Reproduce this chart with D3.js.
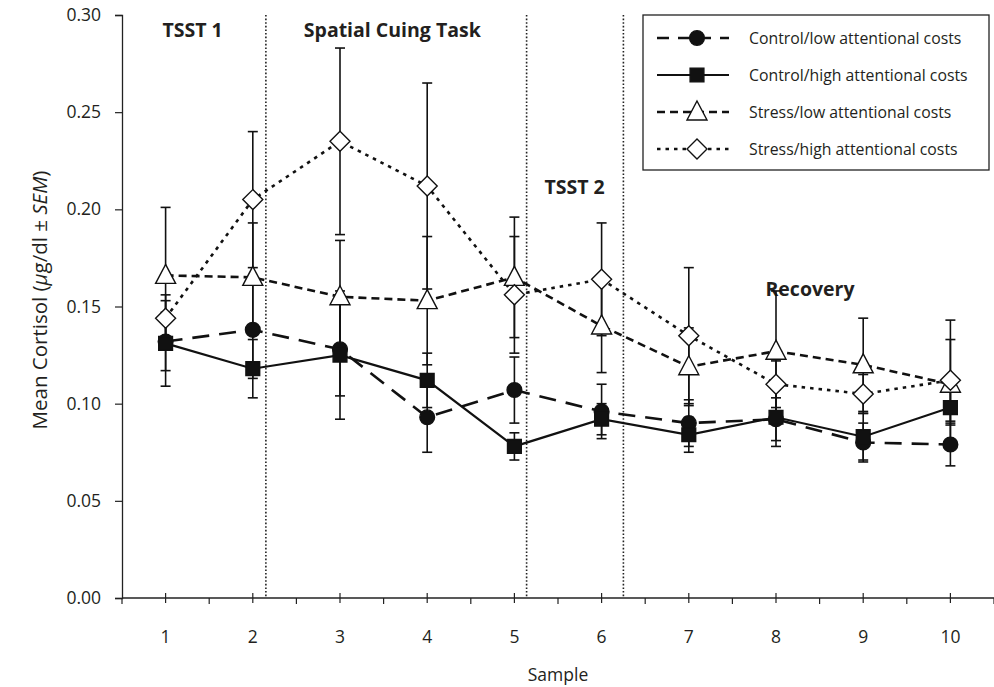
<!DOCTYPE html>
<html>
<head>
<meta charset="utf-8">
<script src="https://cdn.jsdelivr.net/npm/d3@7"></script>
<style>
  body { margin: 0; background: #fff; }
  svg { display: block; }
  text { font-family: "Open Sans", "Noto Sans", sans-serif; fill: #231f20; }
</style>
</head>
<body>
<div id="chart"></div>
<script>
// samples on the x axis
var samples = [1, 2, 3, 4, 5, 6, 7, 8, 9, 10];

// mean cortisol per group
var controlLow  = [0.132, 0.138, 0.128, 0.093, 0.107, 0.096, 0.090, 0.092, 0.080, 0.079];
var controlHigh = [0.131, 0.118, 0.125, 0.112, 0.078, 0.092, 0.084, 0.093, 0.083, 0.098];
var stressLow   = [0.166, 0.165, 0.155, 0.153, 0.165, 0.140, 0.119, 0.127, 0.120, 0.110];
var stressHigh  = [0.144, 0.205, 0.235, 0.212, 0.156, 0.164, 0.135, 0.110, 0.105, 0.112];

// SEM per group
var controlLowSem  = [0.015, 0.025, 0.024, 0.018, 0.017, 0.014, 0.012, 0.011, 0.010, 0.011];
var controlHighSem = [0.022, 0.015, 0.033, 0.014, 0.007, 0.008, 0.009, 0.015, 0.012, 0.009];
var stressLowSem   = [0.035, 0.028, 0.029, 0.033, 0.031, 0.024, 0.020, 0.031, 0.024, 0.033];
var stressHighSem  = [0.012, 0.035, 0.048, 0.053, 0.030, 0.029, 0.035, 0.012, 0.010, 0.021];

var yTicks = [0, 0.05, 0.10, 0.15, 0.20, 0.25, 0.30];

// phase borders (in sample units) and phase labels
var phaseBorders = [2.15, 5.14, 6.25];
var phaseNames = ["TSST 1", "Spatial Cuing Task", "TSST 2", "Recovery"];
var phaseX = [1.31, 3.60, 5.69, 8.39];
var phaseY = [0.2887, 0.2887, 0.2079, 0.1555];

var groups = [
  {name: "Control/low attentional costs",  values: controlLow,  sem: controlLowSem,  marker: "circle",   dash: "17,10", width: 2.6},
  {name: "Control/high attentional costs", values: controlHigh, sem: controlHighSem, marker: "square",   dash: null,    width: 2.2},
  {name: "Stress/low attentional costs",   values: stressLow,   sem: stressLowSem,   marker: "triangle", dash: "8,5",   width: 2.6},
  {name: "Stress/high attentional costs",  values: stressHigh,  sem: stressHighSem,  marker: "diamond",  dash: "3.5,5", width: 2.6}
];

var width = 994, height = 687;
var margin = {top: 15, right: 0, bottom: 89, left: 122};

var svg = d3.select("#chart").append("svg")
  .attr("width", width)
  .attr("height", height);

var x = d3.scaleLinear()
  .domain([0.5, 10.5])
  .range([margin.left, width - margin.right]);

var y = d3.scaleLinear()
  .domain([0, 0.30])
  .range([height - margin.bottom, margin.top]);

//marker shapes
function markerPath(type) {
  if (type == "circle") return d3.symbol(d3.symbolCircle, 170)();
  if (type == "square") return d3.symbol(d3.symbolSquare, 190)();
  if (type == "triangle") return "M0,-11L10,8L-10,8Z";
  return "M0,-10L10,0L0,10L-10,0Z";
}
function markerFill(type) {
  return (type == "circle" || type == "square") ? "#111" : "#fff";
}

// phase borders
svg.selectAll(".border")
  .data(phaseBorders)
  .enter().append("line")
  .attr("x1", d => x(d)).attr("x2", d => x(d))
  .attr("y1", y(0.30)).attr("y2", y(0))
  .attr("stroke", "#222")
  .attr("stroke-width", 1.6)
  .attr("stroke-dasharray", "1.6,2");

// phase labels
svg.selectAll(".phase")
  .data(phaseNames)
  .enter().append("text")
  .attr("x", (d, i) => x(phaseX[i]))
  .attr("y", (d, i) => y(phaseY[i]))
  .attr("text-anchor", "middle")
  .style("font-size", "19.5px")
  .style("font-weight", "bold")
  .text(d => d);

// axes
var xAxis = svg.append("g")
  .attr("transform", "translate(0," + y(0) + ")");
xAxis.append("line")
  .attr("x1", margin.left).attr("x2", width)
  .attr("stroke", "#222").attr("stroke-width", 1.3);
xAxis.selectAll(".tc")
  .data(samples)
  .enter().append("line")
  .attr("x1", d => x(d)).attr("x2", d => x(d))
  .attr("y1", -5).attr("y2", 5)
  .attr("stroke", "#222").attr("stroke-width", 1.2);
xAxis.selectAll(".tb")
  .data(d3.range(0, 11).map(d => d + 0.5))
  .enter().append("line")
  .attr("x1", d => x(d)).attr("x2", d => x(d))
  .attr("y1", 0).attr("y2", 6)
  .attr("stroke", "#222").attr("stroke-width", 1.2);
xAxis.selectAll(".xl")
  .data(samples)
  .enter().append("text")
  .attr("x", d => x(d))
  .attr("y", 45)
  .attr("text-anchor", "middle")
  .style("font-size", "17.5px")
  .text(d => d);

var yAxis = svg.append("g")
  .attr("transform", "translate(" + margin.left + ",0)")
  .call(d3.axisLeft(y).tickValues(yTicks).tickFormat(d3.format(".2f")).tickSize(7).tickPadding(14));
yAxis.select(".domain").attr("stroke", "#222").attr("stroke-width", 1.3);
yAxis.selectAll(".tick line").attr("stroke", "#222").attr("stroke-width", 1.2);
yAxis.selectAll(".tick text")
  .style("font-size", "17.5px")
  .style("font-family", "'Open Sans', sans-serif")
  .attr("fill", "#231f20");

// axis titles
svg.append("text")
  .attr("x", x(5.5))
  .attr("y", 681)
  .attr("text-anchor", "middle")
  .style("font-size", "17.5px")
  .text("Sample");

var yTitle = svg.append("text")
  .attr("transform", "translate(47,300) rotate(-90)")
  .attr("text-anchor", "middle")
  .style("font-size", "20.5px");
yTitle.append("tspan").text("Mean Cortisol (");
yTitle.append("tspan").style("font-style", "italic").text("\u03bc");
yTitle.append("tspan").text("g/dl \u00b1 ");
yTitle.append("tspan").style("font-style", "italic").text("SEM");
yTitle.append("tspan").text(")");

// error bars
groups.forEach(function(g) {
  var eb = svg.append("g");
  g.values.forEach(function(v, i) {
    var cx = x(samples[i]);
    eb.append("line")
      .attr("x1", cx).attr("x2", cx)
      .attr("y1", y(v - g.sem[i])).attr("y2", y(v + g.sem[i]))
      .attr("stroke", "#111").attr("stroke-width", 1.6);
    [v - g.sem[i], v + g.sem[i]].forEach(function(e) {
      eb.append("line")
        .attr("x1", cx - 5).attr("x2", cx + 5)
        .attr("y1", y(e)).attr("y2", y(e))
        .attr("stroke", "#111").attr("stroke-width", 1.6);
    });
  });
});

// lines
var line = d3.line()
  .x((d, i) => x(samples[i]))
  .y(d => y(d));

groups.forEach(function(g) {
  svg.append("path")
    .datum(g.values)
    .attr("d", line)
    .attr("fill", "none")
    .attr("stroke", "#111")
    .attr("stroke-width", g.width)
    .attr("stroke-dasharray", g.dash);
});

// markers
groups.forEach(function(g) {
  svg.append("g").selectAll("path")
    .data(g.values)
    .enter().append("path")
    .attr("transform", (d, i) => "translate(" + x(samples[i]) + "," + y(d) + ")")
    .attr("d", markerPath(g.marker))
    .attr("fill", markerFill(g.marker))
    .attr("stroke", "#111")
    .attr("stroke-width", 1.4);
});

// legend
var legend = svg.append("g").attr("transform", "translate(643,15)");
legend.append("rect")
  .attr("width", 346).attr("height", 155)
  .attr("fill", "#fff")
  .attr("stroke", "#222").attr("stroke-width", 1.3);

var item = legend.selectAll(".item")
  .data(groups)
  .enter().append("g")
  .attr("transform", (d, i) => "translate(0," + (23 + i * 37) + ")");
item.append("line")
  .attr("x1", 14).attr("x2", 86)
  .attr("stroke", "#111")
  .attr("stroke-width", d => d.width)
  .attr("stroke-dasharray", d => d.dash == "17,10" ? "12,9" : d.dash);
item.append("path")
  .attr("transform", "translate(54,0)")
  .attr("d", d => markerPath(d.marker))
  .attr("fill", d => markerFill(d.marker))
  .attr("stroke", "#111")
  .attr("stroke-width", 1.4);
item.append("text")
  .attr("x", 106)
  .attr("y", 5.5)
  .style("font-size", "15.8px")
  .text(d => d.name);
</script>
</body>
</html>
